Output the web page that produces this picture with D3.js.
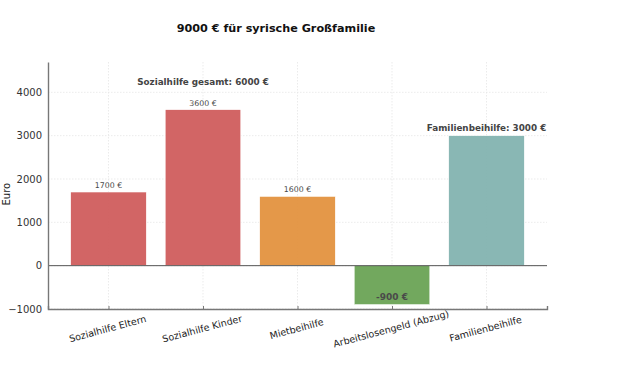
<!DOCTYPE html>
<html>
<head>
<meta charset="utf-8">
<script src="https://cdn.jsdelivr.net/npm/d3@7"></script>
<style>
  body { margin: 0; background: #fff; }
  svg { font-family: "DejaVu Sans", sans-serif; }
</style>
</head>
<body>
<div class="chart"></div>
<script>
var categories = ["Sozialhilfe Eltern", "Sozialhilfe Kinder", "Mietbeihilfe", "Arbeitslosengeld (Abzug)", "Familienbeihilfe"];
var values = [1700, 3600, 1600, -900, 3000];
var barColors = ["#d05d5d", "#d05d5d", "#e3923f", "#6aa355", "#83b3b0"];
var barLabels = ["1700 €", "3600 €", "1600 €", "-900 €", ""];
var yTicks = [-1000, 0, 1000, 2000, 3000, 4000];

var svgWidth = 640;
var svgHeight = 375;
var margin = { top: 62, right: 93, bottom: 66, left: 48 };
var width = svgWidth - margin.left - margin.right;
var height = svgHeight - margin.top - margin.bottom;

var svg = d3.select(".chart")
  .append("svg")
  .attr("width", svgWidth)
  .attr("height", svgHeight);

var chartGroup = svg.append("g")
  .attr("transform", `translate(${margin.left}, ${margin.top})`);

// scales: bar centres at 0..4, matplotlib-like margins
var xScale = d3.scaleLinear().domain([-0.64, 4.64]).range([0, width]);
var yScale = d3.scaleLinear().domain([-1000, 4700]).range([height, 0]);
var barW = xScale(0.8) - xScale(0);

// grid
chartGroup.append("g")
  .selectAll("line")
  .data(yTicks)
  .enter()
  .append("line")
  .attr("x1", 0).attr("x2", width)
  .attr("y1", d => yScale(d)).attr("y2", d => yScale(d))
  .attr("stroke", "#e6e6e6").attr("stroke-dasharray", "1.5,1.5").attr("stroke-width", 0.8);

chartGroup.append("g")
  .selectAll("line")
  .data(d3.range(categories.length))
  .enter()
  .append("line")
  .attr("x1", d => xScale(d)).attr("x2", d => xScale(d))
  .attr("y1", 0).attr("y2", height)
  .attr("stroke", "#e6e6e6").attr("stroke-dasharray", "1.5,1.5").attr("stroke-width", 0.8);

// bars
chartGroup.selectAll("rect.bar")
  .data(values)
  .enter()
  .append("rect")
  .attr("class", "bar")
  .attr("x", (d, i) => xScale(i) - barW / 2)
  .attr("width", barW)
  .attr("y", d => yScale(Math.max(0, d)))
  .attr("height", d => Math.abs(yScale(d) - yScale(0)))
  .attr("fill", (d, i) => barColors[i])
  .attr("fill-opacity", 0.95)
  .attr("stroke", "#fff")
  .attr("stroke-width", 0.6);

// zero line
chartGroup.append("line")
  .attr("x1", 0).attr("x2", width)
  .attr("y1", yScale(0)).attr("y2", yScale(0))
  .attr("stroke", "#555").attr("stroke-width", 1);

// axes
var leftAxis = d3.axisLeft(yScale).tickValues(yTicks).tickSize(0).tickPadding(6)
  .tickFormat(d => d < 0 ? "\u2212" + Math.abs(d) : d);
var bottomAxis = d3.axisBottom(xScale).tickValues(d3.range(categories.length))
  .tickSize(-3).tickFormat("");

var yAxisG = chartGroup.append("g").call(leftAxis);
yAxisG.select(".domain").attr("stroke", "#777").attr("stroke-width", 1.4);
yAxisG.selectAll("text").attr("font-size", "10px").attr("fill", "#333").attr("font-family", "DejaVu Sans");

var xAxisG = chartGroup.append("g")
  .attr("transform", `translate(0, ${height})`)
  .call(bottomAxis);
xAxisG.select(".domain").attr("stroke", "#777").attr("stroke-width", 1.4);
xAxisG.selectAll(".tick line").attr("stroke", "#777");

// rotated category labels
chartGroup.selectAll("text.cat")
  .data(categories)
  .enter()
  .append("text")
  .attr("class", "cat")
  .attr("transform", (d, i) => `translate(${xScale(i)}, ${height + 23}) rotate(-15)`)
  .attr("text-anchor", "middle")
  .attr("font-size", "9.5px")
  .attr("fill", "#222")
  .text(d => d);

// value labels
chartGroup.selectAll("text.val")
  .data(values)
  .enter()
  .append("text")
  .attr("class", "val")
  .attr("x", (d, i) => xScale(i))
  .attr("y", d => d >= 0 ? yScale(d) - 4 : yScale(d) - 5)
  .attr("text-anchor", "middle")
  .attr("font-size", d => d >= 0 ? "7.8px" : "9px")
  .attr("font-weight", d => d >= 0 ? "normal" : "bold")
  .attr("fill", "#4a4a4a")
  .text((d, i) => barLabels[i]);

// annotations
chartGroup.append("text")
  .attr("x", xScale(1))
  .attr("y", yScale(4180))
  .attr("text-anchor", "middle")
  .attr("font-size", "8.8px")
  .attr("font-weight", "bold")
  .attr("fill", "#444")
  .text("Sozialhilfe gesamt: 6000 €");

chartGroup.append("text")
  .attr("x", xScale(4))
  .attr("y", yScale(values[4]) - 5)
  .attr("text-anchor", "middle")
  .attr("font-size", "8.8px")
  .attr("font-weight", "bold")
  .attr("fill", "#444")
  .text("Familienbeihilfe: 3000 €");

// y label
svg.append("text")
  .attr("transform", `translate(10, ${margin.top + yScale(1650)}) rotate(-90)`)
  .attr("text-anchor", "middle")
  .attr("font-size", "10px")
  .attr("fill", "#222")
  .text("Euro");

// title
svg.append("text")
  .attr("x", 276)
  .attr("y", 32)
  .attr("text-anchor", "middle")
  .attr("font-size", "11.2px")
  .attr("font-weight", "bold")
  .attr("fill", "#111")
  .text("9000 € für syrische Großfamilie");
</script>
</body>
</html>
